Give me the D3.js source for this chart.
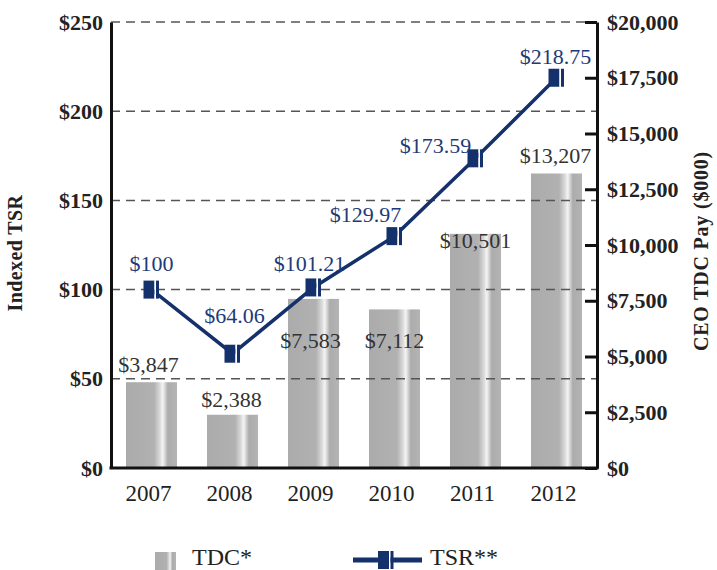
<!DOCTYPE html>
<html><head><meta charset="utf-8">
<script src="https://cdn.jsdelivr.net/npm/d3@7"></script>
<style>body{margin:0;background:#fff}</style>
</head><body>
<script>
const years = ["2007","2008","2009","2010","2011","2012"];
const tdc = [3847, 2388, 7583, 7112, 10501, 13207];
const tsr = [100, 64.06, 101.21, 129.97, 173.59, 218.75];
const tdcLabels = ["$3,847","$2,388","$7,583","$7,112","$10,501","$13,207"];
const tsrLabels = ["$100","$64.06","$101.21","$129.97","$173.59","$218.75"];
const leftTicks = [0,50,100,150,200,250];
const rightTicks = [0,2500,5000,7500,10000,12500,15000,17500,20000];
// label offsets (style)
const tdcLabOff = [[-3,-10],[-1,-8],[-3,49],[0,39],[0,14],[-1,-10]];
const tsrLabOff = [[0,-19],[2,-31],[-4,-16],[-29,-14],[-40,-5],[-1,-14]];

const W=717,H=570, m={l:111,r:120,t:22,b:102};
const navy="#14316c", labNavy="#1e3a78";
const svg=d3.select("body").append("svg").attr("width",W).attr("height",H);
const defs=svg.append("defs");
const g1=defs.append("linearGradient").attr("id","barg").attr("x1","0").attr("x2","1").attr("y1","0").attr("y2","0");
[[0,"#ababab"],[0.55,"#b1b1b1"],[0.66,"#d8d8d8"],[0.72,"#f4f4f4"],[0.77,"#d0d0d0"],[0.82,"#acacac"],[1,"#b4b4b4"]]
 .forEach(([o,c])=>g1.append("stop").attr("offset",o).attr("stop-color",c));

const x=d3.scaleBand().domain(years).range([m.l,W-m.r]).paddingInner(0.37).paddingOuter(0.185);
const yL=d3.scaleLinear().domain([0,250]).range([H-m.b,m.t]);
const yR=d3.scaleLinear().domain([0,20000]).range([H-m.b,m.t]);
const cx=d=>x(d)+x.bandwidth()/2;
const serif="'Liberation Serif','Times New Roman',serif";

// bars
svg.selectAll(".bar").data(years).enter().append("rect")
 .attr("x",d=>x(d)).attr("width",x.bandwidth())
 .attr("y",(d,i)=>yR(tdc[i])).attr("height",(d,i)=>yR(0)-yR(tdc[i]))
 .attr("fill","url(#barg)");

// gridlines
svg.selectAll(".grid").data(leftTicks.filter(v=>v>0)).enter().append("line")
 .attr("x1",m.l).attr("x2",W-m.r).attr("y1",d=>yL(d)).attr("y2",d=>yL(d))
 .attr("stroke","#555").attr("stroke-width",1.5).attr("stroke-dasharray","9,6");

// left axis
const la=svg.append("g").attr("transform",`translate(${m.l},0)`)
 .call(d3.axisLeft(yL).tickValues(leftTicks).tickSize(0).tickPadding(8).tickFormat(d=>"$"+d));
la.select(".domain").attr("stroke","#111").attr("stroke-width",3);
la.selectAll("text").attr("font-family",serif).attr("font-weight","bold").attr("font-size",22).attr("fill","#222");

// right axis
const ra=svg.append("g").attr("transform",`translate(${W-m.r},0)`)
 .call(d3.axisRight(yR).tickValues(rightTicks).tickSizeInner(-12).tickSizeOuter(0).tickPadding(10).tickFormat(d=>"$"+d3.format(",")(d)));
ra.select(".domain").attr("stroke","#111").attr("stroke-width",3);
ra.selectAll("line").attr("stroke","#111").attr("stroke-width",3);
ra.selectAll("text").attr("font-family",serif).attr("font-weight","bold").attr("font-size",22).attr("fill","#222");

// bottom axis
const ba=svg.append("g").attr("transform",`translate(0,${H-m.b})`)
 .call(d3.axisBottom(x).tickSize(0).tickPadding(17));
ba.select(".domain").attr("stroke","#111").attr("stroke-width",3).attr("d",`M${m.l-1.5},0H${W-m.r+1.5}`);
ba.selectAll("text").attr("font-family",serif).attr("font-size",23).attr("fill","#222").attr("dx",-3);

// axis titles
svg.append("text").attr("transform",`translate(22,253) rotate(-90)`).attr("text-anchor","middle")
 .attr("font-family",serif).attr("font-weight","bold").attr("font-size",20).attr("letter-spacing",0.4).attr("fill","#222").text("Indexed TSR");
svg.append("text").attr("transform",`translate(708,251) rotate(-90)`).attr("text-anchor","middle")
 .attr("font-family",serif).attr("font-weight","bold").attr("font-size",20).attr("letter-spacing",0.8).attr("fill","#222").text("CEO TDC Pay ($000)");

// bar labels
svg.selectAll(".tl").data(years).enter().append("text")
 .attr("x",(d,i)=>cx(d)+tdcLabOff[i][0]).attr("y",(d,i)=>yR(tdc[i])+tdcLabOff[i][1])
 .attr("text-anchor","middle").attr("font-family",serif).attr("font-size",22).attr("fill","#333")
 .text((d,i)=>tdcLabels[i]);

// line
const line=d3.line().x((d,i)=>cx(years[i])).y(d=>yL(d));
svg.append("path").datum(tsr).attr("d",line).attr("fill","none").attr("stroke",navy).attr("stroke-width",3.5);

function marker(sel){
  sel.append("rect").attr("x",-8).attr("y",-9).attr("width",11).attr("height",18).attr("fill",navy);
  sel.append("rect").attr("x",3).attr("y",-9).attr("width",1.5).attr("height",18).attr("fill","#fff");
  sel.append("rect").attr("x",4.5).attr("y",-9).attr("width",3).attr("height",18).attr("fill",navy);
}
svg.selectAll(".mk").data(tsr).enter().append("g")
 .attr("transform",(d,i)=>`translate(${cx(years[i])},${yL(d)})`).each(function(){marker(d3.select(this));});

svg.selectAll(".sl").data(tsr).enter().append("text")
 .attr("x",(d,i)=>cx(years[i])+tsrLabOff[i][0]).attr("y",(d,i)=>yL(d)+tsrLabOff[i][1])
 .attr("text-anchor","middle").attr("font-family",serif).attr("font-size",22).attr("fill",labNavy)
 .text((d,i)=>tsrLabels[i]);

// legend
svg.append("rect").attr("x",155).attr("y",552).attr("width",21).attr("height",18).attr("fill","url(#barg)");
svg.append("text").attr("x",192).attr("y",565).attr("font-family",serif).attr("font-size",24).attr("fill","#222").text("TDC*");
svg.append("line").attr("x1",353).attr("x2",422).attr("y1",560).attr("y2",560).attr("stroke",navy).attr("stroke-width",5);
const lm=svg.append("g").attr("transform","translate(386,560)"); marker(lm);
svg.append("text").attr("x",430).attr("y",565).attr("font-family",serif).attr("font-size",24).attr("fill","#222").text("TSR**");
</script>
</body></html>
